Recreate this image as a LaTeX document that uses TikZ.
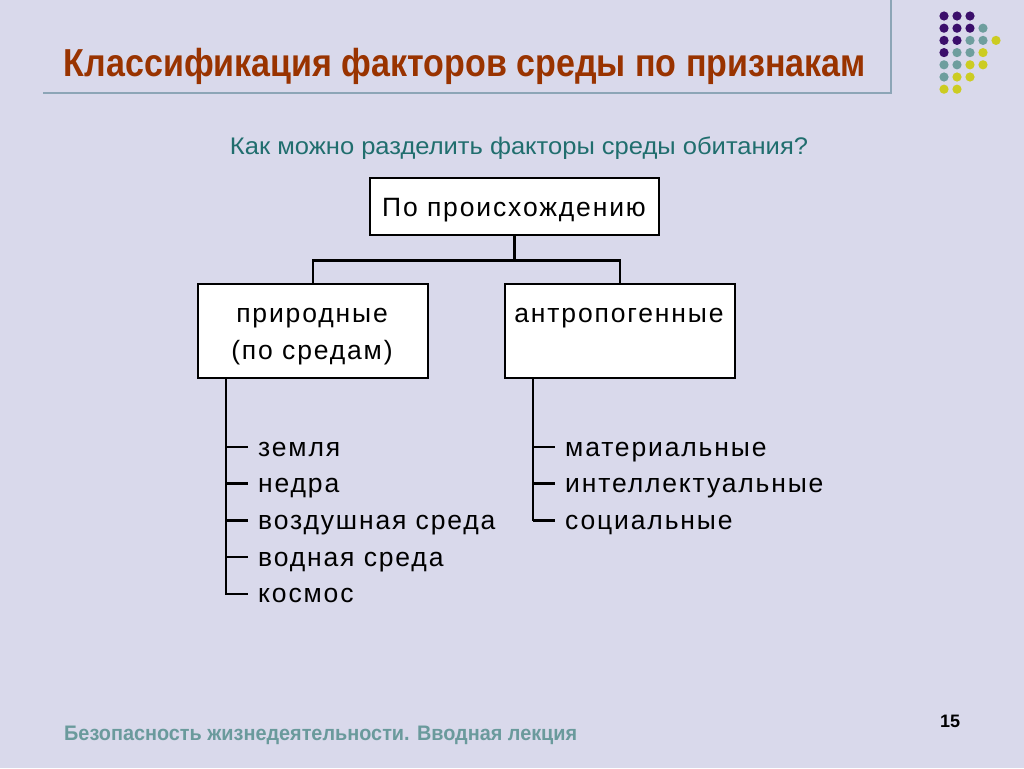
\documentclass[tikz,border=0pt]{standalone}
\usepackage{fontspec}
\usepackage{graphicx}
\setmainfont{Liberation Sans}
\newfontfamily\boxfont[LetterSpace=7]{Liberation Sans}
\newcommand\fitw[2]{\resizebox{#1}{\height}{#2}}
\definecolor{bg}{RGB}{217,217,235}
\definecolor{titlec}{RGB}{153,51,0}
\definecolor{subc}{RGB}{32,110,110}
\definecolor{footc}{RGB}{106,154,156}
\definecolor{framec}{RGB}{140,165,182}
\definecolor{dotP}{RGB}{59,15,107}
\definecolor{dotT}{RGB}{110,158,158}
\definecolor{dotY}{RGB}{204,204,34}
\tikzset{
  boxstyle/.style={draw=black, line width=2.5pt, fill=white, inner sep=0pt},
  btext/.style={inner sep=0pt, font=\boxfont\fontsize{26.5}{30}\selectfont},
  conn/.style={draw=black, line width=2.5pt},
  frameline/.style={draw=framec, line width=2pt},
}
\begin{document}
\begin{tikzpicture}[x=1pt,y=-1pt]
\useasboundingbox (0,0) rectangle (1024,768);
\fill[bg] (0,0) rectangle (1024,768);
% frame lines
\coordinate (fa) at (891,0);
\coordinate (fb) at (891,93);
\coordinate (fc) at (43,93);
\draw[frameline] (fa) -- (fb) -- (fc);
% dots
\foreach \r/\c/\col in {0/0/dotP,0/1/dotP,0/2/dotP,
  1/0/dotP,1/1/dotP,1/2/dotP,1/3/dotT,
  2/0/dotP,2/1/dotP,2/2/dotT,2/3/dotT,2/4/dotY,
  3/0/dotP,3/1/dotT,3/2/dotT,3/3/dotY,
  4/0/dotT,4/1/dotT,4/2/dotY,4/3/dotY,
  5/0/dotT,5/1/dotY,5/2/dotY,
  6/0/dotY,6/1/dotY}
  \fill[\col] (944+13*\c, 16+12.2*\r) circle (4.6);
% title
\node[anchor=base, inner sep=0pt, text=titlec] (title) at (465,76)
  {\fitw{802pt}{\fontsize{39}{44}\selectfont\bfseries Классификация факторов среды по признакам}};
\node[anchor=base, inner sep=0pt, text=subc] (sub) at (519,154)
  {\fitw{578pt}{\fontsize{24}{28}\selectfont Как можно разделить факторы среды обитания?}};
% boxes
\node[boxstyle, minimum width=289pt, minimum height=57pt] (top) at (514.5,206.5) {};
\node[btext, anchor=base] (toptext) at (514,216) {По происхождению};
\node[boxstyle, minimum width=230pt, minimum height=94pt] (lbox) at (313,331) {};
\node[btext, anchor=base] (ltext1) at (312,322) {природные};
\node[btext, anchor=base] (ltext2) at (312,359) {(по средам)};
\node[boxstyle, minimum width=230pt, minimum height=94pt] (rbox) at (620,331) {};
\node[btext, anchor=base] (rtext) at (619,322) {антропогенные};
% connectors
\draw[conn] (top.south) -- ++(0,24) -| (lbox.north);
\draw[conn] (top.south) -- ++(0,24) -| (rbox.north);
% left list
\coordinate (ls) at (226,378);
\node[btext, anchor=base west] (k1) at (258,456) {земля};
\node[btext, anchor=base west] (k2) at (258,492.7) {недра};
\node[btext, anchor=base west] (k3) at (258,529.4) {воздушная среда};
\node[btext, anchor=base west] (k4) at (258,566.1) {водная среда};
\node[btext, anchor=base west] (k5) at (258,602.8) {космос};
\draw[conn] (lbox.south -| ls) -- ([yshift=8.2pt]k5.base west -| ls);
\foreach \k in {k1,k2,k3,k4,k5}
  \draw[conn] ([yshift=9pt]\k.base west -| ls) -- ([xshift=-10pt,yshift=9pt]\k.base west);
% right list
\coordinate (rs) at (533,378);
\node[btext, anchor=base west] (m1) at (565,456) {материальные};
\node[btext, anchor=base west] (m2) at (565,492.7) {интеллектуальные};
\node[btext, anchor=base west] (m3) at (565,529.4) {социальные};
\draw[conn] (rbox.south -| rs) -- ([yshift=8.2pt]m3.base west -| rs);
\foreach \k in {m1,m2,m3}
  \draw[conn] ([yshift=9pt]\k.base west -| rs) -- ([xshift=-10pt,yshift=9pt]\k.base west);
% footer
\node[anchor=base west, inner sep=0pt, text=footc] (foot) at (64,740)
  {\fitw{513pt}{\fontsize{21}{25}\selectfont\bfseries Безопасность жизнедеятельности. Вводная лекция}};
\node[anchor=base, inner sep=0pt] (pnum) at (950,727)
  {\fontsize{18}{22}\selectfont\bfseries 15};
\end{tikzpicture}
\end{document}
